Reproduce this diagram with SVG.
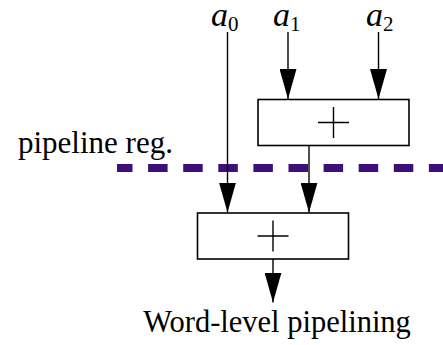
<svg xmlns="http://www.w3.org/2000/svg" width="443" height="345" viewBox="0 0 443 345">
<style>
.t{font-family:"Liberation Serif","Times New Roman",serif;fill:#000}
.l{stroke:#000;stroke-width:1.4;fill:none}
.b{stroke:#000;stroke-width:1.6;fill:#fff}
</style>
<defs>
<marker id="ah" markerUnits="userSpaceOnUse" markerWidth="30" markerHeight="17" refX="30" refY="8.5" orient="auto" viewBox="0 0 30 17">
<path d="M0,0 L30,8.5 L0,17 Z" fill="#000"/>
</marker>
</defs>
<g id="labels">
<text class="t" x="211" y="26" font-size="34" font-style="italic">a<tspan font-style="normal" font-size="21" dy="5">0</tspan></text>
<text class="t" x="273" y="26" font-size="34" font-style="italic">a<tspan font-style="normal" font-size="21" dy="5">1</tspan></text>
<text class="t" x="366" y="26" font-size="34" font-style="italic">a<tspan font-style="normal" font-size="21" dy="5">2</tspan></text>
<text class="t" x="18" y="153" font-size="31">pipeline reg.</text>
<text class="t" x="277" y="332" font-size="30.5" text-anchor="middle">Word-level pipelining</text>
</g>
<g id="adder1">
<rect class="b" x="258" y="99.5" width="151" height="46"/>
<path class="l" d="M318,122.5 H349 M333.5,107 V138"/>
</g>
<g id="adder2">
<rect class="b" x="197.5" y="213" width="151" height="46"/>
<path class="l" d="M257.5,236 H288.5 M273,220.5 V251.5"/>
</g>
<g id="pipeline">
<line x1="117" y1="168" x2="443" y2="168" stroke="#3d1078" stroke-width="8" stroke-dasharray="19.5 15.6" stroke-dashoffset="4"/>
</g>
<g id="connectors">
<line class="l" x1="288" y1="32" x2="288" y2="99" marker-end="url(#ah)"/>
<line class="l" x1="378.5" y1="32" x2="378.5" y2="99" marker-end="url(#ah)"/>
<line class="l" x1="227.5" y1="32" x2="227.5" y2="212.5" marker-end="url(#ah)"/>
<line class="l" x1="309" y1="145.5" x2="309" y2="212.5" marker-end="url(#ah)"/>
<line class="l" x1="273" y1="259" x2="273" y2="302.5" marker-end="url(#ah)"/>
</g>
</svg>
